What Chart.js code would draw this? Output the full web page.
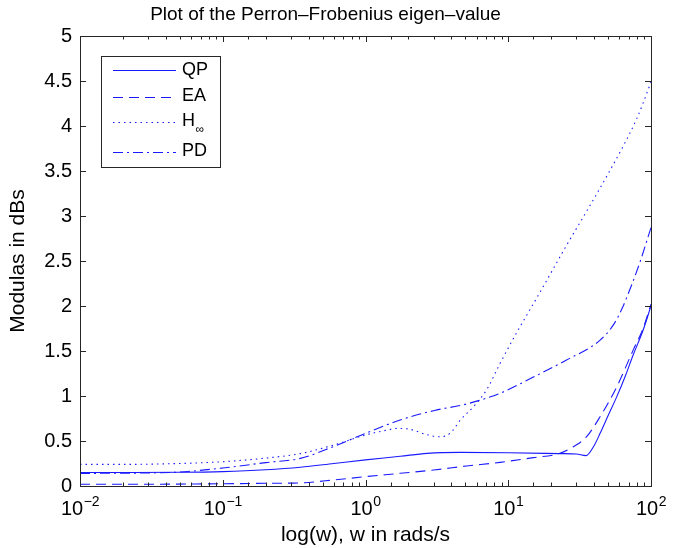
<!DOCTYPE html>
<html>
<head>
<meta charset="utf-8">
<script src="https://cdn.jsdelivr.net/npm/chart.js@4/dist/chart.umd.min.js"></script>
<style>
  html, body { margin: 0; padding: 0; background: #fff; }
  #wrap { width: 681px; height: 548px; position: relative; }
</style>
</head>
<body>
<div id="wrap"><canvas id="c" width="681" height="548"></canvas></div>
<script>
// ---- data ----
const seriesLabels = ['QP', 'EA', 'H∞', 'PD'];

const qpW = [0.01, 0.02, 0.05, 0.1, 0.2, 0.35, 0.6, 1, 1.75, 2.7, 4.6, 10, 23, 30, 35, 40, 44, 50, 57.5, 66, 75, 88, 100];
const qpV = [0.15, 0.15, 0.152, 0.16, 0.18, 0.208, 0.25, 0.29, 0.33, 0.363, 0.374, 0.37, 0.36, 0.355, 0.337, 0.45, 0.585, 0.78, 0.99, 1.22, 1.456, 1.73, 2.0];

const eaW = [0.01, 0.03, 0.1, 0.2, 0.35, 0.6, 1, 1.75, 3, 5.1, 8.75, 15, 23, 28.6, 35.4, 44, 57.5, 75, 88, 100];
const eaV = [0.02, 0.02, 0.025, 0.03, 0.035, 0.067, 0.104, 0.141, 0.178, 0.222, 0.263, 0.315, 0.363, 0.437, 0.548, 0.77, 1.10, 1.51, 1.75, 2.02];

const hinfW = [0.01, 0.02, 0.05, 0.1, 0.2, 0.35, 0.6, 1, 1.4, 1.65, 2.05, 2.6, 3.24, 3.7, 4.1, 4.6, 5.7, 7.06, 8.75, 11.7, 15.85, 19.95, 25.1, 31.6, 39.8, 50.1, 63.1, 79.4, 88.3, 100];
const hinfV = [0.24, 0.24, 0.25, 0.27, 0.31, 0.36, 0.456, 0.567, 0.62, 0.64, 0.63, 0.578, 0.548, 0.56, 0.62, 0.73, 0.88, 1.07, 1.36, 1.73, 2.09, 2.37, 2.65, 2.92, 3.19, 3.47, 3.76, 4.08, 4.26, 4.49];

const pdW = [0.01, 0.03, 0.05, 0.1, 0.2, 0.35, 0.6, 1, 1.75, 3, 5.1, 8.75, 15, 25.6, 44, 54.5, 62.2, 73, 83.8, 95.5, 100];
const pdV = [0.14, 0.145, 0.155, 0.2, 0.26, 0.307, 0.44, 0.585, 0.733, 0.837, 0.911, 1.03, 1.21, 1.40, 1.62, 1.79, 1.96, 2.23, 2.49, 2.77, 2.87];

const xTickValues = [0.01, 0.1, 1, 10, 100];
const xTickBase = '10';
const xTickExponents = ['\u22122', '\u22121', '0', '1', '2'];

const titleText = 'Plot of the Perron\u2013Frobenius eigen\u2013value';
const xTitle = 'log(w), w in rads/s';
const yTitle = 'Modulas in dBs';

// ---- build ----
const FONT = '"Liberation Sans", Arial, Helvetica, sans-serif';
const BLUE = '#1a1aff';
const pts = (w, v) => w.map((x, i) => ({ x, y: v[i] }));
const dashes = [[], [10, 6], [1.5, 4], [10, 4, 2, 4]];
const series = [pts(qpW, qpV), pts(eaW, eaV), pts(hinfW, hinfV), pts(pdW, pdV)];

const datasets = series.map((d, i) => ({
  label: seriesLabels[i],
  data: d,
  borderColor: BLUE,
  backgroundColor: BLUE,
  borderWidth: 1.1,
  borderDash: dashes[i],
  pointRadius: 0,
  fill: false,
  cubicInterpolationMode: 'monotone'
}));

const framePlugin = {
  id: 'frame',
  afterDatasetsDraw(chart) {
    const { ctx, chartArea: a, scales } = chart;
    const x = scales.x, y = scales.y;
    ctx.save();
    ctx.strokeStyle = '#262626';
    ctx.lineWidth = 1;
    ctx.setLineDash([]);
    x.ticks.forEach(t => {
      const lg = Math.log10(t.value);
      const major = Math.abs(lg - Math.round(lg)) < 1e-9;
      const len = major ? 6 : 3.5;
      const px = Math.round(x.getPixelForValue(t.value)) + 0.5;
      ctx.beginPath();
      ctx.moveTo(px, a.bottom); ctx.lineTo(px, a.bottom - len);
      ctx.moveTo(px, a.top); ctx.lineTo(px, a.top + len);
      ctx.stroke();
    });
    y.ticks.forEach(t => {
      const py = Math.round(y.getPixelForValue(t.value)) + 0.5;
      ctx.beginPath();
      ctx.moveTo(a.left, py); ctx.lineTo(a.left + 6, py);
      ctx.moveTo(a.right, py); ctx.lineTo(a.right - 6, py);
      ctx.stroke();
    });
    ctx.strokeRect(Math.round(a.left) + 0.5, Math.round(a.top) + 0.5,
      Math.round(a.right - a.left), Math.round(a.bottom - a.top));

    // x tick labels 10^n
    ctx.fillStyle = '#000';
    ctx.textBaseline = 'alphabetic';
    xTickValues.forEach((v, i) => {
      const px = x.getPixelForValue(v);
      ctx.font = '20px ' + FONT;
      const bw = ctx.measureText(xTickBase).width;
      ctx.font = '14px ' + FONT;
      const ew = ctx.measureText(xTickExponents[i]).width;
      const start = px - (bw + ew) / 2;
      ctx.font = '20px ' + FONT;
      ctx.textAlign = 'left';
      ctx.fillText(xTickBase, start, 515);
      ctx.font = '14px ' + FONT;
      ctx.fillText(xTickExponents[i], start + bw + 0.5, 506);
    });

    // legend
    const lx = 101, ly = 56, lw = 119, lh = 111;
    ctx.fillStyle = '#fff';
    ctx.fillRect(lx, ly, lw, lh);
    ctx.strokeStyle = '#262626';
    ctx.strokeRect(lx + 0.5, ly + 0.5, lw, lh);
    const rowY = [70, 96.5, 121.5, 151.5];
    chart.data.datasets.forEach((ds, i) => {
      const yy = Math.round(rowY[i]) + 0.5;
      ctx.strokeStyle = ds.borderColor;
      ctx.lineWidth = ds.borderWidth;
      ctx.setLineDash(ds.borderDash);
      ctx.beginPath();
      ctx.moveTo(113, yy); ctx.lineTo(176, yy);
      ctx.stroke();
      ctx.setLineDash([]);
      ctx.fillStyle = '#000';
      ctx.textAlign = 'left';
      ctx.textBaseline = 'middle';
      const lab = ds.label;
      const k = lab.indexOf('\u221e');
      if (k > 0) {
        ctx.font = '18px ' + FONT;
        const main = lab.slice(0, k);
        ctx.fillText(main, 182, rowY[i]);
        const mw = ctx.measureText(main).width;
        ctx.font = '12px ' + FONT;
        ctx.fillText(lab.slice(k), 182 + mw + 0.5, rowY[i] + 8);
      } else {
        ctx.font = '18px ' + FONT;
        ctx.fillText(lab, 182, rowY[i]);
      }
    });
    ctx.restore();
  }
};

new Chart(document.getElementById('c'), {
  type: 'line',
  data: { datasets },
  plugins: [framePlugin],
  options: {
    responsive: false,
    animation: false,
    devicePixelRatio: 1,
    layout: { padding: { left: 0, right: 30, top: 0, bottom: 0 } },
    plugins: {
      legend: { display: false },
      tooltip: { enabled: false },
      title: {
        display: true,
        text: titleText,
        color: '#000',
        font: { family: FONT, size: 19, weight: 'normal', lineHeight: 1.2 },
        padding: { top: 3, bottom: 10.2 }
      }
    },
    scales: {
      x: {
        type: 'logarithmic',
        min: 0.01,
        max: 100,
        grid: { display: false, drawTicks: false },
        border: { display: false },
        ticks: { autoSkip: false, maxRotation: 0, callback: () => '' },
        title: {
          display: true,
          text: xTitle,
          color: '#000',
          font: { family: FONT, size: 21, lineHeight: 1.0 },
          padding: { top: 0, bottom: 2 }
        },
        afterFit: s => { s.height = 62; }
      },
      y: {
        type: 'linear',
        min: 0,
        max: 5,
        grid: { display: false, drawTicks: false },
        border: { display: false },
        ticks: {
          stepSize: 0.5,
          padding: 8,
          color: '#000',
          font: { family: FONT, size: 20 },
          callback: v => String(v)
        },
        title: {
          display: true,
          text: yTitle,
          color: '#000',
          font: { family: FONT, size: 21, lineHeight: 1.0 },
          padding: { top: 8, bottom: 0 }
        },
        afterFit: s => { s.width = 80; }
      }
    }
  }
});
</script>
</body>
</html>
